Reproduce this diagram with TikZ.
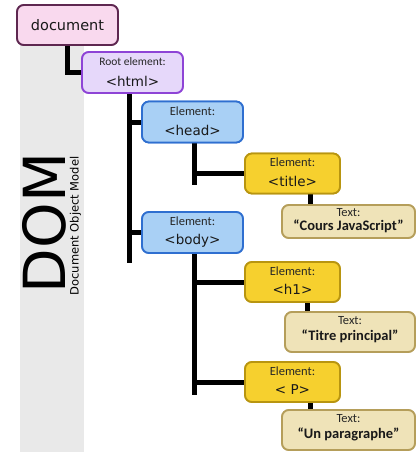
\documentclass[tikz,border=0pt]{standalone}
\usepackage{fontspec}
\setmainfont{DejaVu Sans}
\newfontfamily\lblfont{Carlito}
\definecolor{bandgray}{HTML}{E9E9E9}
\definecolor{docfill}{HTML}{F9D9EE}
\definecolor{docdraw}{HTML}{5E2750}
\definecolor{htmlfill}{HTML}{E6D8FA}
\definecolor{htmldraw}{HTML}{8E44D6}
\definecolor{blfill}{HTML}{A9D0F5}
\definecolor{bldraw}{HTML}{2F6FD0}
\definecolor{yefill}{HTML}{F6D02E}
\definecolor{yedraw}{HTML}{B89510}
\definecolor{txfill}{HTML}{EFE3B8}
\definecolor{txdraw}{HTML}{B59E5A}
\begin{document}
\begin{tikzpicture}[x=1pt,y=-1pt,
  box/.style={draw, rounded corners=7pt, line width=1.8pt, inner sep=0pt},
  docbox/.style={box, fill=docfill, draw=docdraw, minimum width=101pt, minimum height=40pt},
  htmlbox/.style={box, fill=htmlfill, draw=htmldraw, minimum width=101pt, minimum height=41pt},
  bluebox/.style={box, fill=blfill, draw=bldraw, minimum width=101pt, minimum height=41pt},
  yelbox/.style={box, fill=yefill, draw=yedraw, minimum width=95pt, minimum height=40pt},
  txtbox/.style={box, fill=txfill, draw=txdraw, minimum width=133pt, minimum height=38pt},
  lbl/.style={font=\lblfont\fontsize{12.5}{13}\selectfont, text=black!85, inner sep=0pt},
  tag/.style={font=\fontsize{13.5}{14}\selectfont, text=black!90, inner sep=0pt},
  val/.style={font=\lblfont\bfseries\fontsize{14.5}{15}\selectfont, text=black!90, inner sep=0pt},
  conn/.style={line width=5pt, black, line cap=butt}
]
\useasboundingbox (0,0) rectangle (417,452);
\fill[bandgray] (20,45) rectangle (84,452);
\node[rotate=90, anchor=base, inner sep=0pt, font=\fontsize{58}{60}\selectfont] (dom) at (65,223) {DOM};
\node[rotate=90, anchor=base, inner sep=0pt, font=\fontsize{11.5}{12}\selectfont] (domsub) at (78.5,226) {Document Object Model};

% boxes
\node[docbox] (doc) at (67.5,25) {};
\node[htmlbox] (html) at (132.5,72.5) {};
\node[bluebox] (head) at (192.5,122) {};
\node[bluebox] (body) at (192.5,232.5) {};
\node[yelbox] (title) at (292.5,173.5) {};
\node[yelbox] (h1) at (292.5,282) {};
\node[yelbox] (p) at (292.5,382) {};
\node[txtbox, minimum height=33pt] (t1) at (348.5,221.5) {};
\node[txtbox, minimum width=130pt, minimum height=40pt] (t2) at (350,332) {};
\node[txtbox, minimum height=40pt] (t3) at (348.5,430) {};

% connectors
\coordinate (htEnd) at (129,263);
\coordinate (hdEnd) at (194,185);
\coordinate (bdEnd) at (194,395);
\coordinate (htTop) at (129,90);
\coordinate (hdTop) at (194,140);
\coordinate (bdTop) at (194,250);
\draw[conn] (doc.south) |- (html.west);
\draw[conn] (htTop) -- (htEnd);
\draw[conn] (htTop |- head.west) -- (head.west);
\draw[conn] (htTop |- body.west) -- (body.west);
\draw[conn] (hdTop) -- (hdEnd);
\draw[conn] (hdTop |- title.west) -- (title.west);
\draw[conn] (bdTop) -- (bdEnd);
\draw[conn] (bdTop |- h1.west) -- (h1.west);
\draw[conn] (bdTop |- p.west) -- (p.west);
\draw[conn] ([xshift=17.5pt]title.south) -- ([xshift=17.5pt]title.south |- t1.north);
\draw[conn] ([xshift=14.5pt]h1.south) -- ([xshift=14.5pt]h1.south |- t2.north);
\draw[conn] ([xshift=17.5pt]p.south) -- ([xshift=17.5pt]p.south |- t3.north);

% redraw boxes on top of connectors
\node[docbox] at (doc) {};
\node[htmlbox] at (html) {};
\node[bluebox] at (head) {};
\node[bluebox] at (body) {};
\node[yelbox] at (title) {};
\node[yelbox] at (h1) {};
\node[yelbox] at (p) {};
\node[txtbox, minimum height=33pt] at (t1) {};
\node[txtbox, minimum width=130pt, minimum height=40pt] at (t2) {};
\node[txtbox, minimum height=40pt] at (t3) {};

% texts
\node[tag, font=\fontsize{14.5}{15}\selectfont] (docT) at (doc) {document};
\node[lbl, font=\lblfont\fontsize{11.5}{12}\selectfont] (htmlL) at ([yshift=-10.5pt]html.north) {Root element:};
\node[tag] (htmlT) at ([yshift=-30pt]html.north) {<html>};
\node[lbl] (headL) at ([yshift=-10.5pt]head.north) {Element:};
\node[tag] (headT) at ([yshift=-30pt]head.north) {<head>};
\node[lbl] (bodyL) at ([yshift=-10.5pt]body.north) {Element:};
\node[tag] (bodyT) at ([yshift=-30pt]body.north) {<body>};
\node[lbl] (titleL) at ([yshift=-10pt]title.north) {Element:};
\node[tag] (titleT) at ([yshift=-28.5pt]title.north) {<title>};
\node[lbl] (h1L) at ([yshift=-10pt]h1.north) {Element:};
\node[tag] (h1T) at ([yshift=-28.5pt]h1.north) {<h1>};
\node[lbl] (pL) at ([yshift=-10pt]p.north) {Element:};
\node[tag] (pT) at ([yshift=-28.5pt]p.north) {< P>};
\node[lbl] (t1L) at ([yshift=-8pt]t1.north) {Text:};
\node[val] (t1T) at ([yshift=-22pt]t1.north) {“Cours JavaScript”};
\node[lbl] (t2L) at ([yshift=-9pt]t2.north) {Text:};
\node[val] (t2T) at ([yshift=-25pt]t2.north) {“Titre principal”};
\node[lbl] (t3L) at ([yshift=-9pt]t3.north) {Text:};
\node[val] (t3T) at ([yshift=-25pt]t3.north) {“Un paragraphe”};
\end{tikzpicture}
\end{document}
